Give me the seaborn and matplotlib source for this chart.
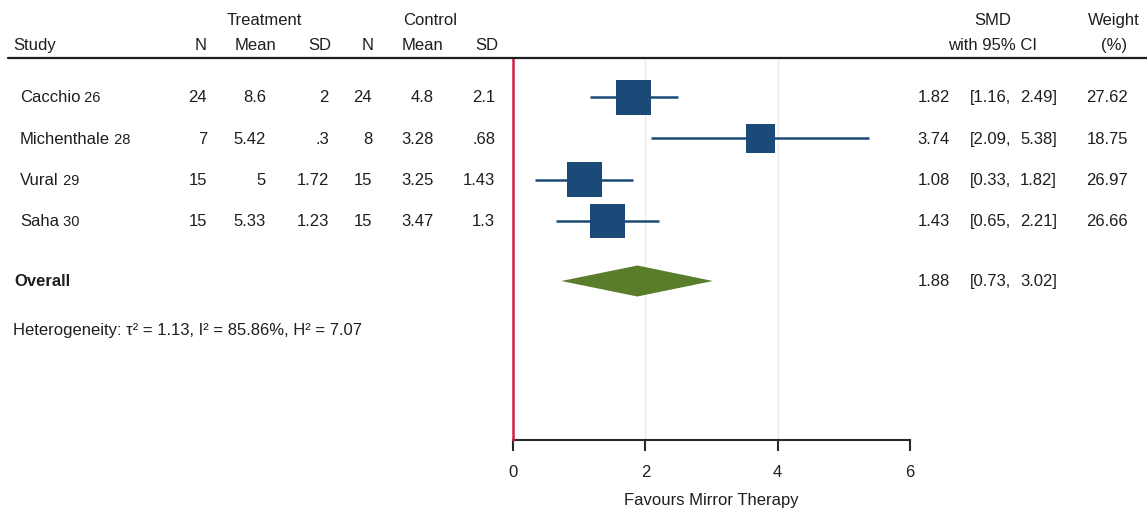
import matplotlib
matplotlib.use("Agg")
import matplotlib.pyplot as plt
import matplotlib.transforms as mtransforms
from matplotlib.lines import Line2D
import numpy as np
import pandas as pd
import seaborn as sns

# ---- data -------------------------------------------------------------
studies = ["Cacchio", "Michenthale", "Vural", "Saha"]
refs = ["26", "28", "29", "30"]
trt_n = ["24", "7", "15", "15"]
trt_mean = ["8.6", "5.42", "5", "5.33"]
trt_sd = ["2", ".3", "1.72", "1.23"]
ctl_n = ["24", "8", "15", "15"]
ctl_mean = ["4.8", "3.28", "3.25", "3.47"]
ctl_sd = ["2.1", ".68", "1.43", "1.3"]
smd = [1.82, 3.74, 1.08, 1.43]
ci_low = [1.16, 2.09, 0.33, 0.65]
ci_high = [2.49, 5.38, 1.82, 2.21]
weight = [27.62, 18.75, 26.97, 26.66]
overall_smd = 1.88
overall_low = 0.73
overall_high = 3.02
heterogeneity = "Heterogeneity: τ² = 1.13, I² = 85.86%, H² = 7.07"
x_ticks = [0, 2, 4, 6]
x_label = "Favours Mirror Therapy"

# ---- style ------------------------------------------------------------
sns.set_theme(style="white")
plt.rcParams["font.family"] = ["Liberation Sans", "DejaVu Sans"]
TXT = "#1e1e1e"
BLUE = "#1b4a78"
GREEN = "#5a7d2b"
RED = "#d21f48"
FS = 12

W, H = 1147, 510
fig = plt.figure(figsize=(W / 100, H / 100), dpi=100)

# plot panel placed between the table columns (pixel geometry)
px_left, px_right, px_top, px_bottom = 513, 910, 59, 441
ax = fig.add_axes([px_left / W, 1 - px_bottom / H,
                   (px_right - px_left) / W, (px_bottom - px_top) / H])

row0_px, row_step = 98, 41.3
def row_of(px):
    return (px - row0_px) / row_step

ax.set_xlim(0, 6)
ax.set_ylim(row_of(px_bottom), row_of(px_top))

rows = np.arange(len(studies), dtype=float)
overall_row = row_of(282)

df = pd.DataFrame({"study": studies, "smd": smd, "lo": ci_low,
                   "hi": ci_high, "weight": weight, "row": rows})

# grid lines and null line
for gx in [2, 4, 6]:
    ax.axvline(gx, color="#ebebeb", lw=1, zorder=0)
ax.axvline(0, color=RED, lw=1.8, zorder=5, clip_on=False)

# confidence intervals
ax.hlines(df["row"], df["lo"], df["hi"], color=BLUE, lw=1.8, zorder=2)

# weight-scaled squares (area proportional to weight)
s_max = 25.2 ** 2
w_min, w_max = min(weight), max(weight)
sns.scatterplot(data=df, x="smd", y="row", size="weight",
                sizes=(s_max * w_min / w_max, s_max), size_norm=(w_min, w_max),
                marker="s", color=BLUE, linewidth=0, legend=False,
                ax=ax, zorder=4)

# pooled estimate diamond
half_h = 15.5 / row_step
ax.fill([overall_low, overall_smd, overall_high, overall_smd],
        [overall_row, overall_row - half_h, overall_row, overall_row + half_h],
        color=GREEN, lw=0, zorder=4)

# axes styling
for side in ["left", "top", "right"]:
    ax.spines[side].set_visible(False)
ax.spines["bottom"].set_color("#2a2a2a")
ax.spines["bottom"].set_linewidth(1.5)
ax.set_xticks(x_ticks)
ax.set_xticklabels([str(t) for t in x_ticks])
ax.set_yticks([])
ax.tick_params(axis="x", bottom=True, length=8, width=1.5, color="#2a2a2a",
               direction="out", labelsize=FS, labelcolor=TXT, pad=9)
ax.set_xlabel(x_label, fontsize=FS, color=TXT, labelpad=10)
ax.set_ylabel("")

# ---- table text -------------------------------------------------------
tr = mtransforms.blended_transform_factory(fig.transFigure, ax.transData)
def put(xpx, row, s, ha="left", **kw):
    return fig.text(xpx / W, row, s, transform=tr, ha=ha, va="center",
                    fontsize=kw.pop("fontsize", FS), color=TXT, **kw)

h1, h2 = row_of(21), row_of(46)
put(264, h1, "Treatment", ha="center")
put(430, h1, "Control", ha="center")
put(993, h1, "SMD", ha="center")
put(1114, h1, "Weight", ha="center")
put(13, h2, "Study")
put(201, h2, "N", ha="center")
put(256, h2, "Mean", ha="center")
put(320, h2, "SD", ha="center")
put(368, h2, "N", ha="center")
put(422, h2, "Mean", ha="center")
put(487, h2, "SD", ha="center")
put(993, h2, "with 95% CI", ha="center")
put(1114, h2, "(%)", ha="center")

fig.add_artist(Line2D([8 / W, 1.0], [1 - px_top / H] * 2,
                      color="#1e1e1e", lw=1.6, transform=fig.transFigure))

for i, r in enumerate(rows):
    name = put(20, r, studies[i])
    ax.annotate(" " + refs[i], xy=(1, 0), xycoords=name, ha="left",
                va="bottom", fontsize=10.5, color=TXT, annotation_clip=False)
    put(207, r, trt_n[i], ha="right")
    put(266, r, trt_mean[i], ha="right")
    put(329, r, trt_sd[i], ha="right")
    put(372, r, ctl_n[i], ha="right")
    put(434, r, ctl_mean[i], ha="right")
    put(495, r, ctl_sd[i], ha="right")
    put(950, r, f"{smd[i]:.2f}", ha="right")
    put(970, r, f"[{ci_low[i]:.2f},")
    put(1057, r, f"{ci_high[i]:.2f}]", ha="right")
    put(1128, r, f"{weight[i]:.2f}", ha="right")

put(14, overall_row, "Overall", fontweight="bold")
put(950, overall_row, f"{overall_smd:.2f}", ha="right")
put(970, overall_row, f"[{overall_low:.2f},")
put(1057, overall_row, f"{overall_high:.2f}]", ha="right")
put(13, row_of(331), heterogeneity)

fig.savefig("out.png", dpi=100, facecolor="white")
